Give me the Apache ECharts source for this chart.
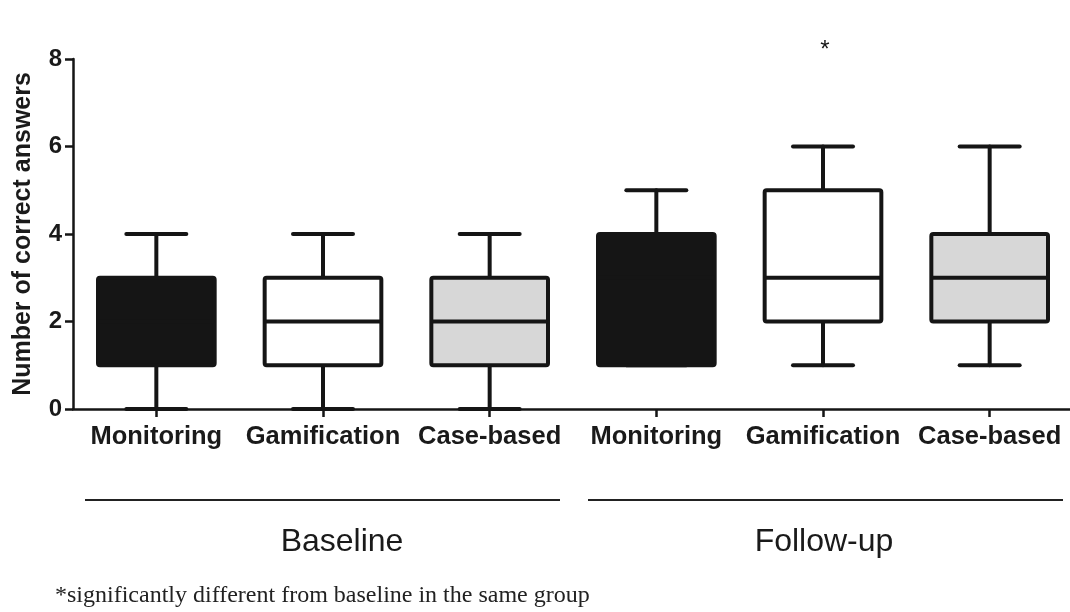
<!DOCTYPE html>
<html>
<head>
<meta charset="utf-8">
<title>Number of correct answers</title>
<script src="https://cdn.jsdelivr.net/npm/echarts@6/dist/echarts.min.js"></script>
<style>
  html, body { margin: 0; padding: 0; background: #ffffff; }
  #chart { width: 1070px; height: 612px; }
</style>
</head>
<body>
<div id="chart"></div>
<script>
// Groups shown along the x axis (three interventions, baseline then follow-up)
const categories = ['Monitoring', 'Gamification', 'Case-based', 'Monitoring', 'Gamification', 'Case-based'];
const phases = ['Baseline', 'Follow-up'];

// Box-and-whisker statistics per group
const whiskerLow  = [0, 0, 0, 1, 1, 1];
const quartile1   = [1, 1, 1, 1, 2, 2];
const medians     = [2, 2, 2, 3, 3, 3];
const quartile3   = [3, 3, 3, 4, 5, 4];
const whiskerHigh = [4, 4, 4, 5, 6, 6];

// Significance markers and the level they sit at
const sigMarks = ['', '', '', '', '*', ''];
const sigLevel = 8.2;

const yTicks = [0, 2, 4, 6, 8];
const footnote = '*significantly different from baseline in the same group';

const ink = '#151515';
const boxFills = [ink, '#ffffff', '#d7d7d7', ink, '#ffffff', '#d7d7d7'];

const boxData = categories.map((c, i) =>
  [i, whiskerLow[i], quartile1[i], medians[i], quartile3[i], whiskerHigh[i]]);

function renderBox(params, api) {
  const i = api.value(0);
  const band = api.size([1, 0])[0];
  const boxW = band * 0.70;
  const capW = band * 0.36;
  const pLow = api.coord([i, api.value(1)]);
  const pQ1 = api.coord([i, api.value(2)]);
  const pMed = api.coord([i, api.value(3)]);
  const pQ3 = api.coord([i, api.value(4)]);
  const pHigh = api.coord([i, api.value(5)]);
  const cx = pQ1[0];
  const lineStyle = { stroke: ink, lineWidth: 4, lineCap: 'round' };
  const children = [];
  // whiskers
  children.push({ type: 'line', shape: { x1: cx, y1: pQ3[1], x2: cx, y2: pHigh[1] }, style: lineStyle });
  children.push({ type: 'line', shape: { x1: cx - capW / 2, y1: pHigh[1], x2: cx + capW / 2, y2: pHigh[1] }, style: lineStyle });
  children.push({ type: 'line', shape: { x1: cx, y1: pQ1[1], x2: cx, y2: pLow[1] }, style: lineStyle });
  children.push({ type: 'line', shape: { x1: cx - capW / 2, y1: pLow[1], x2: cx + capW / 2, y2: pLow[1] }, style: lineStyle });
  // box
  children.push({
    type: 'rect',
    shape: { x: cx - boxW / 2, y: pQ3[1], width: boxW, height: pQ1[1] - pQ3[1], r: 2 },
    style: { fill: boxFills[params.dataIndex], stroke: ink, lineWidth: 4, lineJoin: 'round' }
  });
  // median
  children.push({ type: 'line', shape: { x1: cx - boxW / 2, y1: pMed[1], x2: cx + boxW / 2, y2: pMed[1] }, style: { stroke: ink, lineWidth: 4 } });
  // significance marker
  const mark = sigMarks[params.dataIndex];
  if (mark) {
    const pS = api.coord([i, sigLevel]);
    children.push({
      type: 'text',
      style: { text: mark, x: cx + 2, y: pS[1], align: 'center', verticalAlign: 'middle',
               font: '24px "Liberation Sans", Arial, sans-serif', fill: ink }
    });
  }
  return { type: 'group', children: children };
}

const chart = echarts.init(document.getElementById('chart'), null, { renderer: 'canvas' });

const option = {
  animation: false,
  backgroundColor: '#ffffff',
  grid: { left: 73, top: 59, width: 1000, height: 350, containLabel: false, outerBoundsMode: 'none' },
  xAxis: {
    type: 'category',
    data: categories,
    boundaryGap: true,
    axisLine: { show: true, lineStyle: { color: ink, width: 2.5 } },
    axisTick: { show: true, alignWithLabel: true, length: 8, lineStyle: { color: ink, width: 2.5 } },
    axisLabel: {
      interval: 0, margin: 15, color: '#1a1a1a',
      fontFamily: '"Liberation Sans", Arial, sans-serif', fontWeight: 'bold', fontSize: 25.5
    },
    splitLine: { show: false }
  },
  yAxis: {
    type: 'value',
    min: yTicks[0],
    max: yTicks[yTicks.length - 1],
    interval: yTicks[1] - yTicks[0],
    name: 'Number of correct answers',
    nameLocation: 'middle',
    nameGap: 37,
    nameRotate: 90,
    nameTextStyle: {
      color: '#1a1a1a', fontFamily: '"Liberation Sans", Arial, sans-serif',
      fontWeight: 'bold', fontSize: 25
    },
    axisLine: { show: true, lineStyle: { color: ink, width: 2.5 } },
    axisTick: { show: true, length: 8, lineStyle: { color: ink, width: 2.5 } },
    axisLabel: {
      margin: 11, color: '#1a1a1a',
      fontFamily: '"Liberation Sans", Arial, sans-serif', fontWeight: 'bold', fontSize: 24
    },
    splitLine: { show: false }
  },
  graphic: [
    { type: 'line', shape: { x1: 85, y1: 500, x2: 560, y2: 500 }, style: { stroke: '#222', lineWidth: 2 } },
    { type: 'line', shape: { x1: 588, y1: 500, x2: 1063, y2: 500 }, style: { stroke: '#222', lineWidth: 2 } },
    { type: 'text', x: 342, y: 542, style: { text: phases[0], align: 'center', verticalAlign: 'middle',
        font: '32px "Liberation Sans", Arial, sans-serif', fill: '#1a1a1a' } },
    { type: 'text', x: 824, y: 542, style: { text: phases[1], align: 'center', verticalAlign: 'middle',
        font: '32px "Liberation Sans", Arial, sans-serif', fill: '#1a1a1a' } },
    { type: 'text', x: 55, y: 596, style: { text: footnote, align: 'left', verticalAlign: 'middle',
        font: '24px "Liberation Serif", "Times New Roman", serif', fill: '#222' } }
  ],
  series: [{
    type: 'custom',
    renderItem: renderBox,
    data: boxData,
    encode: { x: 0, y: [1, 2, 3, 4, 5] },
    clip: false,
    z: 3
  }]
};

chart.setOption(option);
</script>
</body>
</html>
